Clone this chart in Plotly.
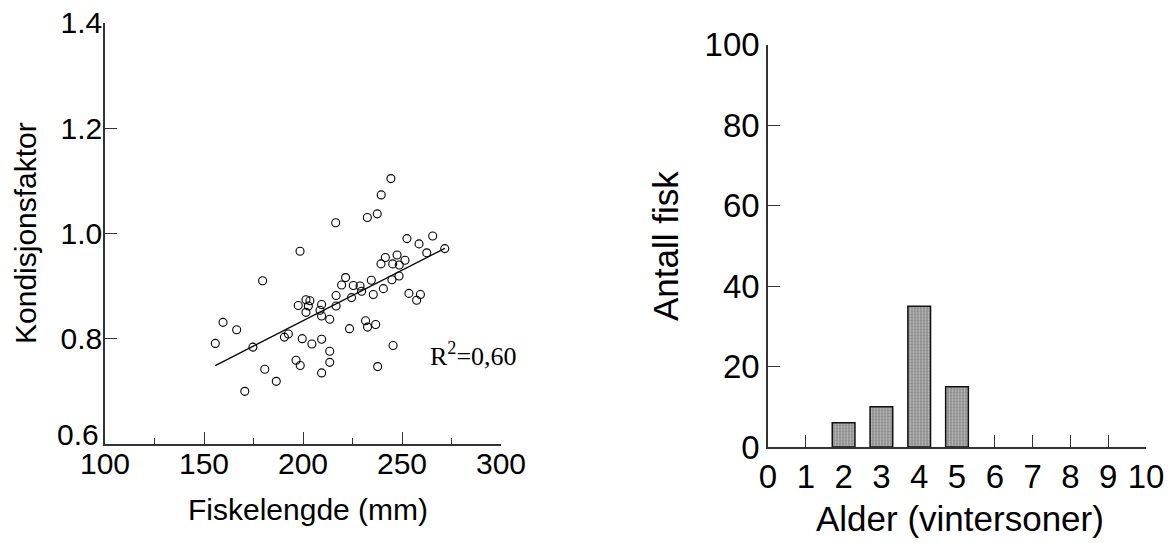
import plotly.graph_objects as go

W, H = 1171, 543

# --- Scatter data: fish length (mm) vs condition factor ---
fish_length = [216.5, 198.5, 179.6, 221.5, 244.4, 239.5, 232.5, 237.5, 252.5, 258.6,
               265.5, 262.5, 271.6, 241.6, 247.5, 251.5, 239.4, 245.3, 248.6, 244.9,
               248.5, 234.5, 219.5, 216.7, 224.5, 201.5, 203.5, 197.6, 202.7, 209.4,
               216.7, 208.6, 201.5, 209.4, 213.5, 159.6, 166.5, 223.5, 190.6, 192.6,
               199.6, 209.4, 204.5, 155.7, 174.7, 213.5, 196.5, 198.6, 213.5, 180.7,
               209.4, 186.5, 170.6, 225.4, 228.8, 229.6, 240.6, 235.5, 253.5, 259.3,
               257.4, 231.6, 232.6, 236.7, 245.5, 237.7]
condition = [1.020, 0.966, 0.910, 0.916, 1.104, 1.073, 1.030, 1.037, 0.990, 0.980,
             0.995, 0.963, 0.971, 0.954, 0.959, 0.949, 0.942, 0.942, 0.940, 0.912,
             0.919, 0.911, 0.902, 0.882, 0.878, 0.874, 0.872, 0.863, 0.862, 0.865,
             0.862, 0.854, 0.850, 0.843, 0.837, 0.831, 0.817, 0.819, 0.803, 0.809,
             0.800, 0.799, 0.790, 0.791, 0.784, 0.776, 0.759, 0.749, 0.755, 0.742,
             0.735, 0.719, 0.700, 0.901, 0.900, 0.890, 0.895, 0.884, 0.886, 0.884,
             0.873, 0.834, 0.822, 0.827, 0.787, 0.747]
fit_intercept = 0.45
fit_slope = 0.00192
r2_label = "R<sup>2</sup>=0,60"
y_tickvals = [0.6, 0.8, 1.0, 1.2, 1.4]
y_ticklabels = ["", "0.8", "1.0", "1.2", "1.4"]   # "0.6" drawn separately, nudged up
y_bottom_label = "0.6"

# --- Bar data: age distribution ---
ages = [2, 3, 4, 5]
counts = [6, 10, 35, 15]
age_ticks = list(range(0, 11))

fig = go.Figure()

fig.add_trace(go.Scatter(
    x=fish_length, y=condition, mode="markers",
    marker=dict(symbol="circle-open", size=8, color="black", line=dict(width=1.1, color="black")),
    xaxis="x", yaxis="y", showlegend=False))

x0, x1 = min(fish_length), max(fish_length)
fig.add_trace(go.Scatter(
    x=[x0, x1], y=[fit_intercept + fit_slope * x0, fit_intercept + fit_slope * x1],
    mode="lines", line=dict(color="black", width=1.3),
    xaxis="x", yaxis="y", showlegend=False))

fig.add_trace(go.Bar(
    x=ages, y=counts, width=0.6,
    marker=dict(color="#9a9a9a", line=dict(color="#111111", width=1.5),
                pattern=dict(shape=".", fgcolor="#c4c4c4", bgcolor="#8e8e8e", size=3, solidity=0.3)),
    xaxis="x2", yaxis="y2", showlegend=False))

def px_x(p):
    return p / W

def px_y(p):
    return 1 - p / H

font_s = dict(family="Liberation Sans, Arial, sans-serif", size=30, color="black")
font_b = dict(family="Liberation Sans, Arial, sans-serif", size=33, color="black")
font_bt = dict(family="Liberation Sans, Arial, sans-serif", size=35, color="black")

axis_common = dict(showgrid=False, zeroline=False, showline=True, linecolor="#333333",
                   linewidth=1.5, ticks="inside", tickcolor="#333333", tickwidth=1.3,
                   ticklen=12, mirror=False, automargin=False)

fig.update_layout(
    template="none",
    width=W, height=H,
    margin=dict(l=0, r=0, t=0, b=0, pad=0, autoexpand=False),
    paper_bgcolor="white", plot_bgcolor="white",
    xaxis=dict(domain=[px_x(105), px_x(501)], range=[100, 300], tickvals=[100, 150, 200, 250, 300],
               tickfont=font_s, anchor="y", ticklabelstandoff=-8,
               minor=dict(ticks="inside", ticklen=6, tickcolor="#333333", tickwidth=1.3, dtick=25, tick0=100),
               **axis_common),
    yaxis=dict(domain=[px_y(444), px_y(22.7)], range=[0.6, 1.4], tickvals=y_tickvals,
               ticktext=y_ticklabels, tickfont=font_s, anchor="x", ticklabelstandoff=-5, **axis_common),
    xaxis2=dict(domain=[px_x(768), px_x(1146)], range=[0, 10], tickvals=age_ticks,
                tickfont=font_b, anchor="y2", layer="below traces", **axis_common),
    yaxis2=dict(domain=[px_y(447), px_y(44.5)], range=[0, 100], tickvals=[0, 20, 40, 60, 80, 100],
                tickfont=font_b, anchor="x2", **axis_common),
    annotations=[
        dict(text=y_bottom_label, xref="paper", yref="paper", x=px_x(101), y=px_y(434),
             xanchor="right", yanchor="middle", showarrow=False, font=font_s),
        dict(text="Fiskelengde (mm)", xref="paper", yref="paper", x=px_x(308), y=px_y(509),
             xanchor="center", yanchor="middle", showarrow=False, font=font_s),
        dict(text="Kondisjonsfaktor", xref="paper", yref="paper", x=px_x(25), y=px_y(233),
             xanchor="center", yanchor="middle", textangle=-90, showarrow=False, font=font_s),
        dict(text="Alder (vintersoner)", xref="paper", yref="paper", x=px_x(960), y=px_y(518),
             xanchor="center", yanchor="middle", showarrow=False, font=font_bt),
        dict(text="Antall fisk", xref="paper", yref="paper", x=px_x(666), y=px_y(246),
             xanchor="center", yanchor="middle", textangle=-90, showarrow=False, font=font_bt),
        dict(text=r2_label, xref="x", yref="y", x=286, y=0.77, xanchor="center", yanchor="middle",
             showarrow=False, font=dict(family="Liberation Serif, Times New Roman, serif", size=26, color="black")),
    ],
)

fig.write_html("out.html", config={"displayModeBar": False},
               post_script="document.body.style.margin='0';document.body.style.overflow='hidden';")
